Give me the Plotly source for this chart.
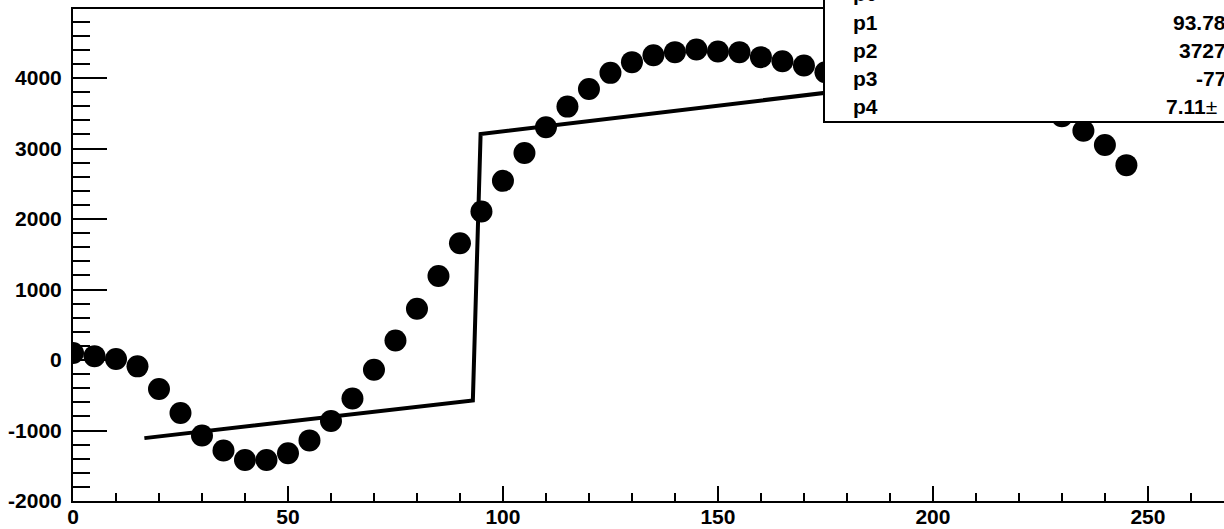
import plotly.graph_objects as go

# ---- data ----
x_pts = [0, 5, 10, 15, 20, 25, 30, 35, 40, 45,
         50, 55, 60, 65, 70, 75, 80, 85, 90, 95,
         100, 105, 110, 115, 120, 125, 130, 135, 140, 145,
         150, 155, 160, 165, 170, 175, 180, 185, 190, 195,
         200, 205, 210, 215, 220, 225, 230, 235, 240, 245]
y_pts = [100, 55, 15, -90, -411, -752, -1071, -1284, -1417, -1417,
         -1322, -1140, -865, -545, -137, 276, 727, 1191, 1656, 2107,
         2542, 2936, 3302, 3595, 3846, 4074, 4226, 4325, 4368, 4405,
         4377, 4368, 4297, 4240, 4178, 4084, 4010, 3950, 3890, 3840,
         3790, 3740, 3700, 3660, 3620, 3580, 3460, 3253, 3050, 2765]

# fit curve (piecewise, as drawn)
fit_x = [16.6, 93.0, 94.8, 245.0]
fit_y = [-1108, -573, 3205, 4303]

x_tickvals = [0, 50, 100, 150, 200, 250]
x_ticktext = ["0", "50", "100", "150", "200", "250"]
y_tickvals = [-2000, -1000, 0, 1000, 2000, 3000, 4000]
y_ticktext = ["-2000", "-1000", "0", "1000", "2000", "3000", "4000"]

stat_names = ["p0", "p1", "p2", "p3", "p4"]
stat_values = ["", "93.78", "3727", "-77", "7.11<span style='font-weight:normal'>±</span>"]

# ---- layout geometry (pixels) ----
# The frame continues past the right edge of the 1224 px window (as in the reference).
FW, H = 1240, 529
ML, MR, MT, MB = 73, 0, 9, 28
PW = FW - ML - MR
PH = H - MT - MB
PX_PER_UNIT = 1151 / 267.7
X_MAX = PW / PX_PER_UNIT


def px_to_paper_x(px):
    return (px - ML) / PW


def px_to_paper_y(py):
    return (H - MB - py) / PH


FONT = dict(family="Liberation Sans, Arial, sans-serif", size=21, color="black", weight="bold")

fig = go.Figure()
fig.add_trace(go.Scatter(
    x=fit_x, y=fit_y, mode="lines",
    line=dict(color="black", width=4),
    hoverinfo="skip", showlegend=False,
))
fig.add_trace(go.Scatter(
    x=x_pts, y=y_pts, mode="markers",
    marker=dict(color="black", size=22, line=dict(width=0)),
    showlegend=False,
))

# stats box
fig.add_shape(type="rect", xref="paper", yref="paper",
              x0=px_to_paper_x(824), x1=px_to_paper_x(1260),
              y0=px_to_paper_y(122), y1=px_to_paper_y(-30),
              line=dict(color="black", width=2), fillcolor="white", layer="above")

row_y = [-6.6, 22.2, 50.3, 78.8, 106.8]
val_right = [1226, 1228, 1228, 1228, 1219]
for name, val, ry, vr in zip(stat_names, stat_values, row_y, val_right):
    fig.add_annotation(xref="paper", yref="paper", x=px_to_paper_x(851), y=px_to_paper_y(ry),
                       text=name, showarrow=False, xanchor="left", yanchor="middle", font=FONT)
    if val:
        fig.add_annotation(xref="paper", yref="paper", x=px_to_paper_x(vr), y=px_to_paper_y(ry),
                           text=val, showarrow=False, xanchor="right", yanchor="middle", font=FONT)

fig.update_layout(
    width=FW, height=H,
    margin=dict(l=ML, r=MR, t=MT, b=MB, pad=0, autoexpand=False),
    paper_bgcolor="white", plot_bgcolor="white",
    showlegend=False,
    xaxis=dict(
        range=[0, X_MAX], showgrid=False, zeroline=False, automargin=False,
        showline=True, linecolor="black", linewidth=2, mirror=True,
        ticks="inside", ticklen=15, tickwidth=1.5, tickcolor="black",
        tickmode="array", tickvals=x_tickvals, ticktext=x_ticktext,
        tickfont=FONT, ticklabelstandoff=-4,
        minor=dict(ticks="inside", ticklen=8, tickwidth=1.5, tickcolor="black",
                   tickmode="linear", tick0=0, dtick=10, showgrid=False),
    ),
    yaxis=dict(
        range=[-2000, 4980], showgrid=False, zeroline=False, automargin=False,
        showline=True, linecolor="black", linewidth=2, mirror=False,
        ticks="inside", ticklen=34, tickwidth=2, tickcolor="black",
        tickmode="array", tickvals=y_tickvals, ticktext=y_ticktext,
        tickfont=FONT, ticklabelstandoff=5,
        minor=dict(ticks="inside", ticklen=17, tickwidth=2, tickcolor="black",
                   tickmode="linear", tick0=0, dtick=200, showgrid=False),
    ),
)

fig.write_html(
    "out.html",
    config={"displayModeBar": False},
    post_script=(
        "document.body.style.margin='0';"
        "document.body.style.overflow='hidden';"
        "document.documentElement.style.overflow='hidden';"
    ),
)
